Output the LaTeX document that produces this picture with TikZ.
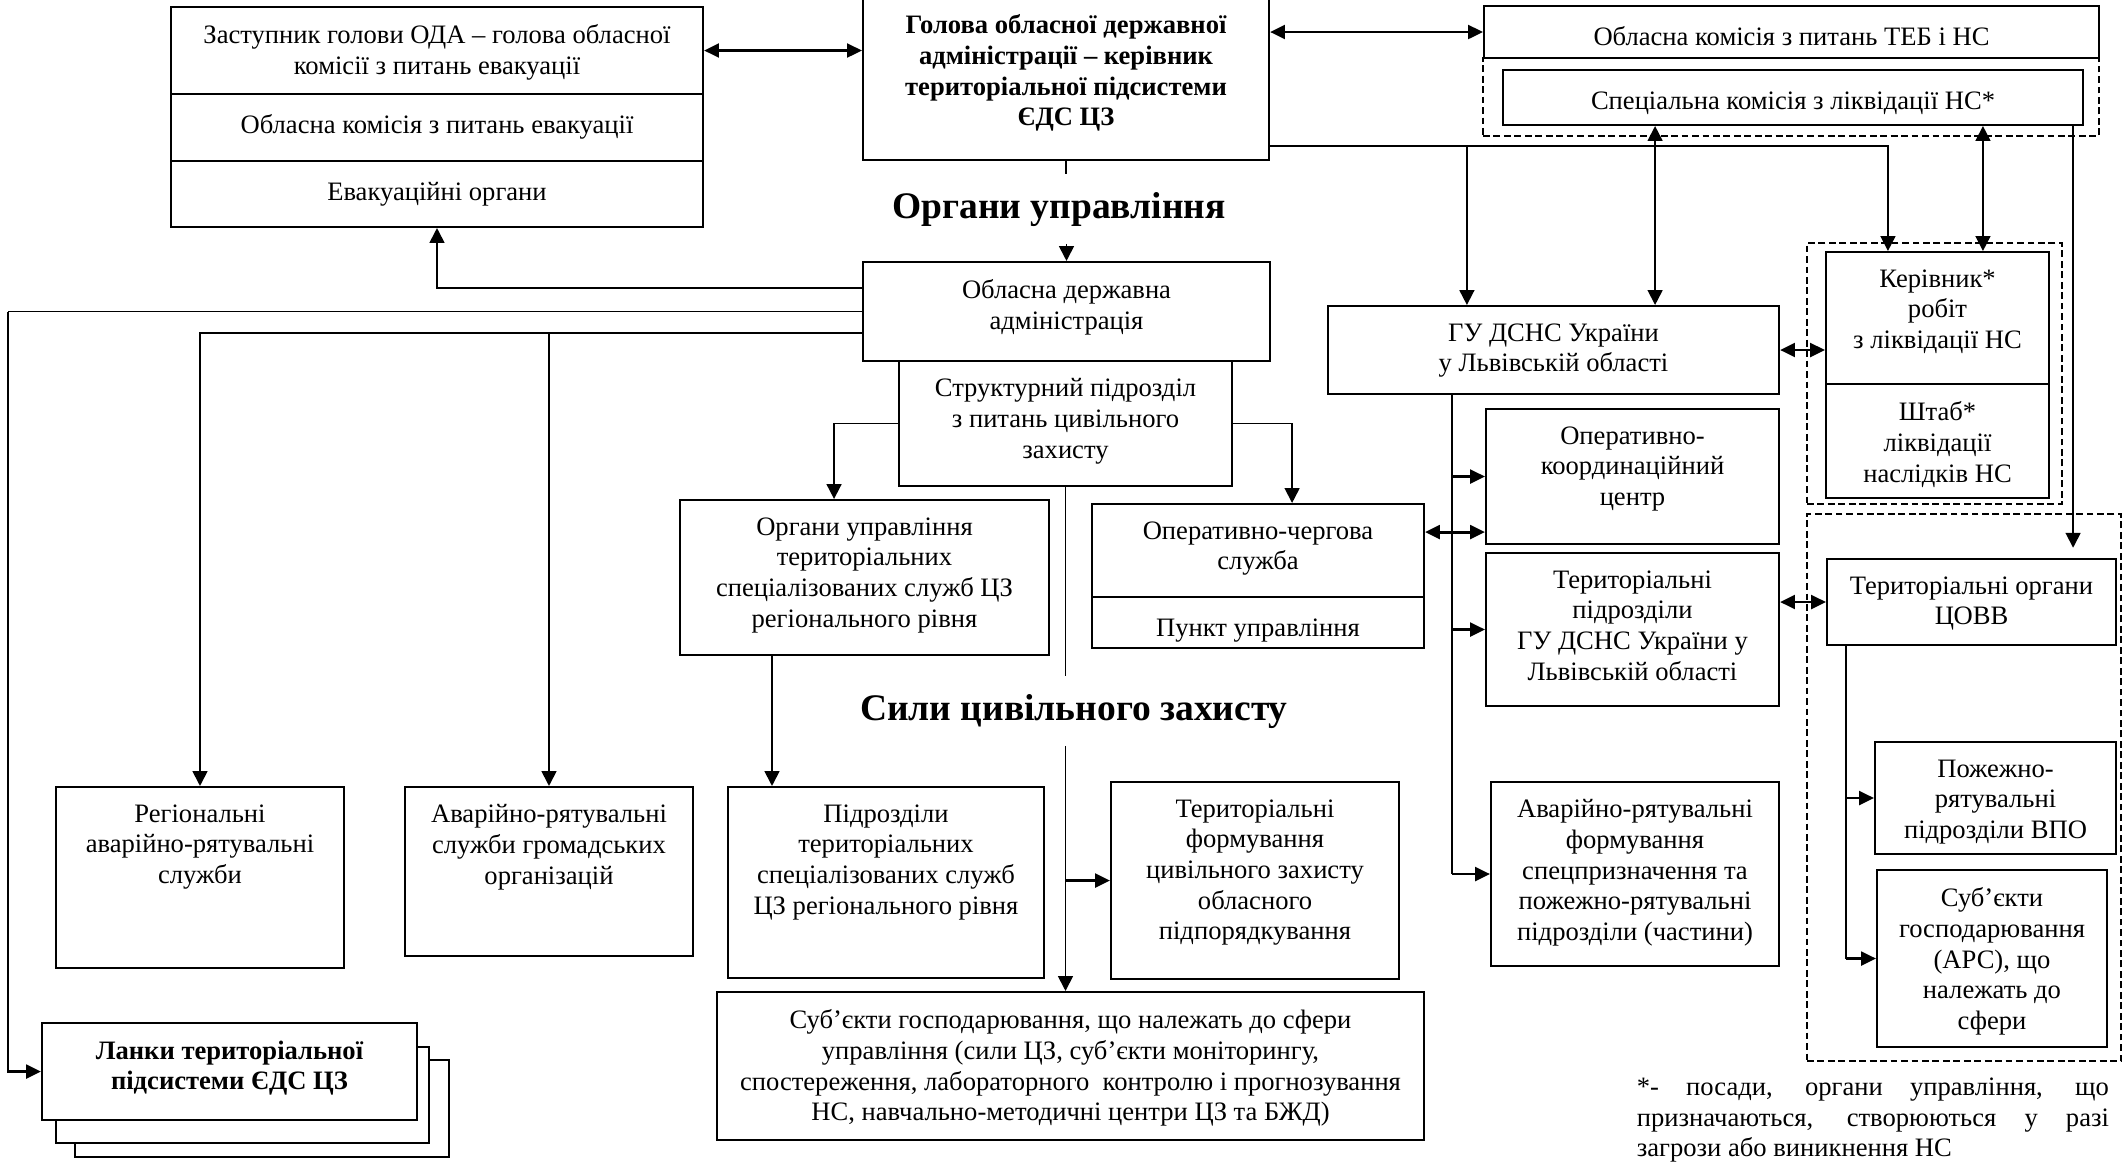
\documentclass[tikz,border=0pt]{standalone}
\usepackage{fontspec}
\setmainfont{Liberation Serif}
\usetikzlibrary{arrows.meta,fit,calc}

\tikzset{every picture/.style={line width=0.8pt}}
\tikzset{
	box/.style={draw, inner sep=0pt, line width=0.9pt},
	dashbox/.style={draw, inner sep=0pt, line width=0.8pt, dash pattern=on 3pt off 1.6pt},
	txt/.style={align=center, inner sep=0pt, anchor=north, font=\fontsize{11.7}{13.5}\selectfont, execute at begin node=\strut},
	txtb/.style={txt, font=\fontsize{11.7}{13.5}\selectfont\bfseries},
	head/.style={inner sep=8pt, anchor=base, font=\fontsize{16.5}{19}\selectfont\bfseries, text height=11pt, text depth=3pt},
	arr/.style={-{Triangle[length=6.5pt,width=6.5pt]}},
	darr/.style={{Triangle[length=6.5pt,width=6.5pt]}-{Triangle[length=6.5pt,width=6.5pt]}},
	harr/.style={line width=1.3pt, -{Triangle[length=6.5pt,width=6pt]}},
	hdarr/.style={line width=1.3pt, {Triangle[length=6.5pt,width=6pt]}-{Triangle[length=6.5pt,width=6pt]}}
}

\begin{document}
\begin{tikzpicture}[x=0.44pt,y=0.44pt,yscale=-1,xscale=1]
	\useasboundingbox (0,0) rectangle (2128,1164);

	%Shape: Rectangle [evacuation block]
	\node[box, fit={(171,7) (703,94)}] (zast1) {};
	\node[box, fit={(171,94) (703,161)}] (zast2) {};
	\node[box, fit={(171,161) (703,227)}] (zast3) {};
	%Shape: Rectangle [head of ODA]
	\node[box, fit={(863,-3) (1269,160)}] (holova) {};
	%Shape: Rectangle [commissions]
	\node[dashbox, fit={(1483,58) (2099,136)}] (specdash) {};
	\node[box, fit={(1484,6) (2099,58)}] (teb) {};
	\node[box, fit={(1503,70) (2083,125)}] (spec) {};
	%Shape: Rectangle [control bodies]
	\node[box, fit={(863,262) (1270,361)}] (oda) {};
	\node[box, fit={(899,361) (1232,486)}] (struct) {};
	\node[box, fit={(1328,306) (1779,394)}] (gudsns) {};
	\node[dashbox, fit={(1807,243) (2062,504)}] (kerdash) {};
	\node[box, fit={(1826,252) (2049,384)}] (kerivnyk) {};
	\node[box, fit={(1826,384) (2049,498)}] (shtab) {};
	\node[box, fit={(1486,409) (1779,544)}] (okc) {};
	\node[box, fit={(1092,504) (1424,597)}] (ochs) {};
	\node[box, fit={(1092,597) (1424,648)}] (punkt) {};
	\node[box, fit={(680,500) (1049,655)}] (orgter) {};
	\node[box, fit={(1486,553) (1779,706)}] (terpidr) {};
	\node[dashbox, fit={(1807,514) (2121,1061)}] (covvdash) {};
	\node[box, fit={(1827,559) (2116,645)}] (covv) {};
	\node[box, fit={(1875,742) (2116,854)}] (pozh) {};
	\node[box, fit={(1877,870) (2107,1047)}] (ars) {};
	%Shape: Rectangle [forces]
	\node[box, fit={(56,787) (344,968)}] (region) {};
	\node[box, fit={(405,787) (693,956)}] (avrsl) {};
	\node[box, fit={(728,787) (1044,978)}] (pidrozd) {};
	\node[box, fit={(1111,782) (1399,979)}] (terform) {};
	\node[box, fit={(1491,782) (1779,966)}] (arf) {};
	\node[box, fit={(717,992) (1424,1140)}] (subj) {};
	%Shape: Rectangle [stacked links]
	\node[box, fill=white, fit={(75,1060) (449,1157)}] (lanky3) {};
	\node[box, fill=white, fit={(56,1047) (429,1143)}] (lanky2) {};
	\node[box, fill=white, fit={(42,1023) (417,1120)}] (lanky) {};

	% Text Node
	\node[txt] (zast1t) at ([yshift=7.8pt]zast1.north) {Заступник голови ОДА – голова обласної\\комісії з питань евакуації};
	% Text Node
	\node[txt] (zast2t) at ([yshift=7.8pt]zast2.north) {Обласна комісія з питань евакуації};
	% Text Node
	\node[txt] (zast3t) at ([yshift=7.8pt]zast3.north) {Евакуаційні органи};
	% Text Node
	\node[txtb] (holovat) at ([yshift=7.8pt]holova.north) {Голова обласної державної\\адміністрації – керівник\\територіальної підсистеми\\ЄДС ЦЗ};
	% Text Node
	\node[txt] (tebt) at ([yshift=7.8pt]teb.north) {Обласна комісія з питань ТЕБ і НС};
	% Text Node
	\node[txt] (spect) at ([yshift=7.8pt]spec.north) {Спеціальна комісія з ліквідації НС*};
	% Text Node
	\node[txt] (odat) at ([yshift=7.8pt]oda.north) {Обласна державна\\адміністрація};
	% Text Node
	\node[txt] (structt) at ([yshift=7.8pt]struct.north) {Структурний підрозділ\\з питань цивільного\\захисту};
	% Text Node
	\node[txt] (gudsnst) at ([yshift=7.8pt]gudsns.north) {ГУ ДСНС України\\у Львівській області};
	% Text Node
	\node[txt] (kerivnykt) at ([yshift=7.8pt]kerivnyk.north) {Керівник*\\робіт\\з ліквідації НС};
	% Text Node
	\node[txt] (shtabt) at ([yshift=7.8pt]shtab.north) {Штаб*\\ліквідації\\наслідків НС};
	% Text Node
	\node[txt] (okct) at ([yshift=7.8pt]okc.north) {Оперативно-\\координаційний\\центр};
	% Text Node
	\node[txt] (ochst) at ([yshift=7.8pt]ochs.north) {Оперативно-чергова\\служба};
	% Text Node
	\node[txt] (punktt) at ([yshift=7.8pt]punkt.north) {Пункт управління};
	% Text Node
	\node[txt] (orgtert) at ([yshift=7.8pt]orgter.north) {Органи управління\\територіальних\\спеціалізованих служб ЦЗ\\регіонального рівня};
	% Text Node
	\node[txt] (terpidrt) at ([yshift=7.8pt]terpidr.north) {Територіальні\\підрозділи\\ГУ ДСНС України у\\Львівській області};
	% Text Node
	\node[txt] (covvt) at ([yshift=7.8pt]covv.north) {Територіальні органи\\ЦОВВ};
	% Text Node
	\node[txt] (pozht) at ([yshift=7.8pt]pozh.north) {Пожежно-\\рятувальні\\підрозділи ВПО};
	% Text Node
	\node[txt] (arst) at ([yshift=7.8pt]ars.north) {Суб’єкти\\господарювання\\(АРС), що\\належать до\\сфери};
	% Text Node
	\node[txt] (regiont) at ([yshift=7.8pt]region.north) {Регіональні\\аварійно-рятувальні\\служби};
	% Text Node
	\node[txt] (avrslt) at ([yshift=7.8pt]avrsl.north) {Аварійно-рятувальні\\служби громадських\\організацій};
	% Text Node
	\node[txt] (pidrozdt) at ([yshift=7.8pt]pidrozd.north) {Підрозділи\\територіальних\\спеціалізованих служб\\ЦЗ регіонального рівня};
	% Text Node
	\node[txt] (terformt) at ([yshift=7.8pt]terform.north) {Територіальні\\формування\\цивільного захисту\\обласного\\підпорядкування};
	% Text Node
	\node[txt] (arft) at ([yshift=7.8pt]arf.north) {Аварійно-рятувальні\\формування\\спецпризначення та\\пожежно-рятувальні\\підрозділи (частини)};
	% Text Node
	\node[txt] (subjt) at ([yshift=7.8pt]subj.north) {Суб’єкти господарювання, що належать до сфери\\управління (сили ЦЗ, суб'єкти моніторингу,\\спостереження, лабораторного~ контролю і прогнозування\\НС, навчально-методичні центри ЦЗ та БЖД)};
	% Text Node
	\node[txtb] (lankyt) at ([yshift=7.8pt]lanky.north) {Ланки територіальної\\підсистеми ЄДС ЦЗ};
	% Text Node
	\node[head] (orgupr) at (1059,218) {Органи управління};
	% Text Node
	\node[head] (sily) at (1074,720) {Сили цивільного захисту};
	% Text Node
	\node[txt, anchor=north west, text width=207.7pt, align=justify] (note) at (1636,1073) {*- посади, органи управління, що\linebreak призначаються, створюються у разі\linebreak загрози або виникнення НС};

	% junction points
	\coordinate (lft) at (8,311.5);
	\coordinate (odab) at ([yshift=9.5pt]oda.west);
	\coordinate (orgd) at ([xshift=-40.7pt]orgter.south);
	\coordinate (hr) at ([yshift=-6.6pt]holova.south east);
	\coordinate (gu1) at ([xshift=-38.1pt]gudsns.north);
	\coordinate (gu2) at ([xshift=44.7pt]gudsns.north);
	\coordinate (ke1) at ([xshift=-21.8pt]kerivnyk.north);
	\coordinate (ke2) at ([xshift=20pt]kerivnyk.north);
	\coordinate (cv1) at ([xshift=44.7pt,yshift=-4.5pt]covv.north);
	\coordinate (gv) at ([xshift=-44.7pt]gudsns.south);
	\coordinate (cvd) at ([xshift=-55.2pt]covv.south);

	%Straight Lines [top level]
	\draw[hdarr] (zast1.east) -- (zast1.east -| holova.west);
	\draw[hdarr] (holova.east |- teb.west) -- (teb.west);
	\draw (holova.south) -- (holova.south |- orgupr.north);
	\draw[arr] (orgupr.south -| oda.north) -- (oda.north);
	\draw[arr] (hr) -| (ke1);
	\draw[arr] (hr -| gu1) -- (gu1);
	\draw[darr] (gu2 |- spec.south) -- (gu2);
	\draw[darr] (ke2 |- spec.south) -- (ke2);
	\draw[arr] (cv1 |- spec.south) -- (cv1);

	%Straight Lines [from ODA]
	\draw[arr] ([yshift=-10.3pt]oda.west) -| (zast3.south);
	\draw (oda.west) -- (lft);
	\draw[harr] (lft) |- (lanky.west);
	\draw[arr] (odab) -| (region.north);
	\draw[arr] (odab -| avrsl.north) -- (avrsl.north);

	%Straight Lines [from civil protection unit]
	\draw[arr] (struct.west) -| ([xshift=-13.4pt]orgter.north);
	\draw[arr] (struct.east) -| ([xshift=15pt]ochs.north);
	\draw[arr] (orgd) -- (orgd |- pidrozd.north);
	\draw (struct.south) -- (struct.south |- sily.north);
	\draw[arr] (sily.south -| struct.south) -- (struct.south |- subj.north);
	\draw[harr] (terform.west -| struct.south) -- (terform.west);
	\draw[hdarr] ([yshift=-8.1pt]ochs.east) -- ([yshift=-8.1pt]ochs.east -| okc.west);

	%Straight Lines [from state emergency service]
	\draw[hdarr] (gudsns.east) -- (gudsns.east -| kerivnyk.west);
	\draw (gv) -- (gv |- arf.west);
	\draw[harr] (gv |- okc.west) -- (okc.west);
	\draw[harr] (gv |- terpidr.west) -- (terpidr.west);
	\draw[harr] (gv |- arf.west) -- (arf.west);
	\draw[hdarr] (covv.west -| terpidr.east) -- (covv.west);

	%Straight Lines [from central executive bodies]
	\draw (cvd) -- (cvd |- ars.west);
	\draw[harr] (cvd |- pozh.west) -- (pozh.west);
	\draw[harr] (cvd |- ars.west) -- (ars.west);

\end{tikzpicture}
\end{document}
